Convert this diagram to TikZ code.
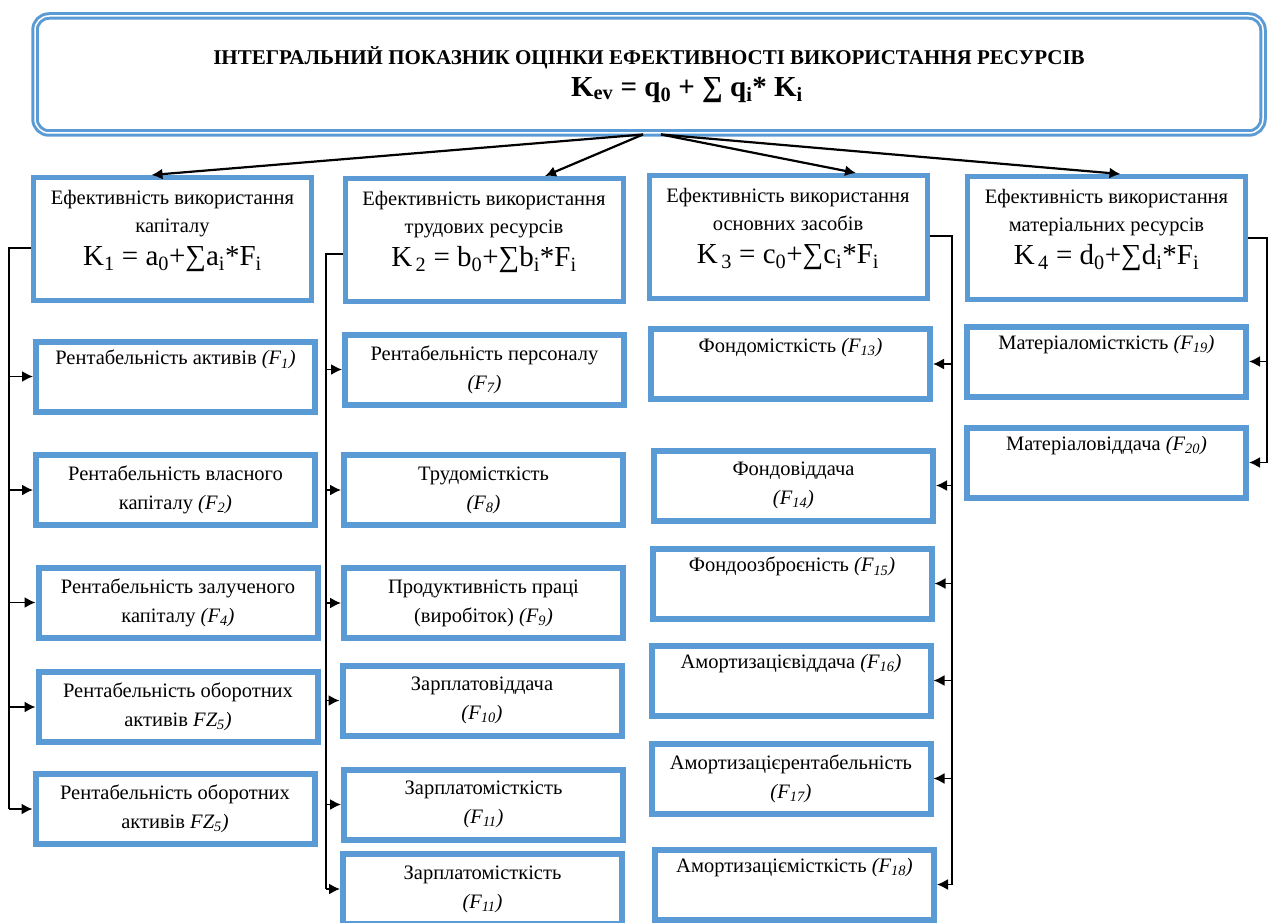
\documentclass[tikz,border=0pt]{standalone}
\usepackage{fontspec}
\setmainfont{Liberation Serif}
\usepackage{tikz}
\usetikzlibrary{positioning}
\usetikzlibrary{arrows, arrows.meta}
\tikzstyle{line} = [draw, -latex']
\definecolor{boxblue}{RGB}{91,155,213}
\newcommand{\Fi}[1]{\textit{(F\textsubscript{#1})}}

\begin{document}
\begin{tikzpicture}[x=1pt, y=-1pt,
		topbox/.style={draw=boxblue, line width=3pt, double=white, double distance=1.5pt, rounded corners=14pt, minimum width=1228pt, minimum height=117pt},
		kbox/.style={draw=boxblue, rectangle, line width=5pt, inner sep=2pt, minimum width=278pt, minimum height=123pt, text depth=22pt, font=\fontsize{20.5}{28}\selectfont},
		fbox/.style={draw=boxblue, rectangle, line width=6pt, inner sep=2pt, minimum width=279pt, minimum height=70pt, font=\fontsize{20.5}{29}\selectfont},
		conn/.style={line width=1.6pt},
		tip/.style={-{Latex[length=11pt, width=11pt]}},
		every text node part/.style={align=center}]
	\useasboundingbox (0,0) rectangle (1271,923);
	
	\node[topbox](top) at (649,74.5) {\fontsize{21}{24}\selectfont\bfseries ІНТЕГРАЛЬНИЙ ПОКАЗНИК ОЦІНКИ ЕФЕКТИВНОСТІ ВИКОРИСТАННЯ РЕСУРСІВ\\[7pt]
		\fontsize{29}{30}\selectfont\bfseries \hspace*{76pt}K\textsubscript{ev} = q\textsubscript{0} + ∑ q\textsubscript{i}* K\textsubscript{i}};
	
	% level 1
	\node[kbox](k1) at (172.5,239) {Ефективність використання\\ капіталу\\[5pt] {\fontsize{29}{30}\selectfont K\textsubscript{1} = a\textsubscript{0}+∑a\textsubscript{i}*F\textsubscript{i}}};
	\node[kbox](k2) at (484,240) {Ефективність використання\\ трудових ресурсів\\[5pt] {\fontsize{29}{30}\selectfont K\textsubscript{\,2} = b\textsubscript{0}+∑b\textsubscript{i}*F\textsubscript{i}}};
	\node[kbox](k3) at (788,237) {Ефективність використання\\ основних засобів\\[5pt] {\fontsize{29}{30}\selectfont K\textsubscript{\,3} = c\textsubscript{0}+∑c\textsubscript{i}*F\textsubscript{i}}};
	\node[kbox](k4) at (1106.5,238) {Ефективність використання\\ матеріальних ресурсів\\[5pt] {\fontsize{29}{30}\selectfont K\textsubscript{\,4} = d\textsubscript{0}+∑d\textsubscript{i}*F\textsubscript{i}}};
	
	% capital
	\node[fbox](f1) at (175.5,376.5) {Рентабельність активів \Fi{1}\\ \strut};
	\node[fbox](f2) at (175.5,490) {Рентабельність власного\\ капіталу \Fi{2}};
	\node[fbox](f4) at (178,602.5) {Рентабельність залученого\\ капіталу \Fi{4}};
	\node[fbox](f5a) at (178,707) {Рентабельність оборотних\\ активів \textit{FZ\textsubscript{5})}};
	\node[fbox](f5b) at (175,809) {Рентабельність оборотних\\ активів \textit{FZ\textsubscript{5})}};
	
	% labour
	\node[fbox](f7) at (484.5,369.5) {Рентабельність персоналу\\ \Fi{7}};
	\node[fbox](f8) at (483.5,490) {Трудомісткість\\ \Fi{8}};
	\node[fbox](f9) at (483.5,603) {Продуктивність праці\\ (виробіток) \Fi{9}};
	\node[fbox](f10) at (482,700.5) {Зарплатовіддача\\ \Fi{10}};
	\node[fbox](f11a) at (483.5,804.5) {Зарплатомісткість\\ \Fi{11}};
	\node[fbox](f11b) at (482.5,889) {Зарплатомісткість\\ \Fi{11}};
	
	% fixed assets
	\node[fbox](f13) at (790.5,364) {Фондомісткість \Fi{13}\\ \strut};
	\node[fbox](f14) at (793.5,485.5) {Фондовіддача\\ \Fi{14}};
	\node[fbox](f15) at (792,583.5) {Фондоозброєність \Fi{15}\\ \strut};
	\node[fbox](f16) at (791,680.5) {Амортизацієвіддача \Fi{16}\\ \strut};
	\node[fbox](f17) at (791,778.5) {Амортизацієрентабельність\\ \Fi{17}};
	\node[fbox](f18) at (794.5,884.5) {Амортизаціємісткість \Fi{18}\\ \strut};
	
	% materials
	\node[fbox](f19) at (1106.5,361.5) {Матеріаломісткість \Fi{19}\\ \strut};
	\node[fbox, below=25pt of f19](f20) {Матеріаловіддача \Fi{20}\\ \strut};
	
	\draw[tip, line width=2.2pt] ([xshift=-6pt]top.south) -- ([xshift=-21pt]k1.north);
	\draw[tip, line width=2.2pt] ([xshift=-6pt]top.south) -- ([xshift=61pt]k2.north);
	\draw[tip, line width=2.2pt] ([xshift=12pt]top.south) -- ([xshift=68pt]k3.north);
	\draw[tip, line width=2.2pt] ([xshift=12pt]top.south) -- ([xshift=14pt]k4.north);
	
	\coordinate (c1) at (9,248);
	\coordinate (c2) at (326,254);
	\coordinate (c3) at (952,236);
	\coordinate (c4) at (1267,238);
	\draw[conn] (k1.west |- c1) -- (c1) -- (c1 |- f5b.west);
	\draw[conn] (k2.west |- c2) -- (c2) -- (c2 |- f11b.west);
	\draw[conn] (k3.east |- c3) -- (c3) -- (c3 |- f18.east);
	\draw[conn] (k4.east |- c4) -- (c4) -- (c4 |- f20.east);
	\foreach \n in {f1,f2,f4,f5a,f5b}
		\draw[tip, conn] (c1 |- \n.west) -- (\n.west);
	\foreach \n in {f7,f8,f9,f10,f11a,f11b}
		\draw[tip, conn] (c2 |- \n.west) -- (\n.west);
	\foreach \n in {f13,f14,f15,f16,f17,f18}
		\draw[tip, conn] (c3 |- \n.east) -- (\n.east);
	\foreach \n in {f19,f20}
		\draw[tip, conn] (c4 |- \n.east) -- (\n.east);
\end{tikzpicture}
\end{document}
